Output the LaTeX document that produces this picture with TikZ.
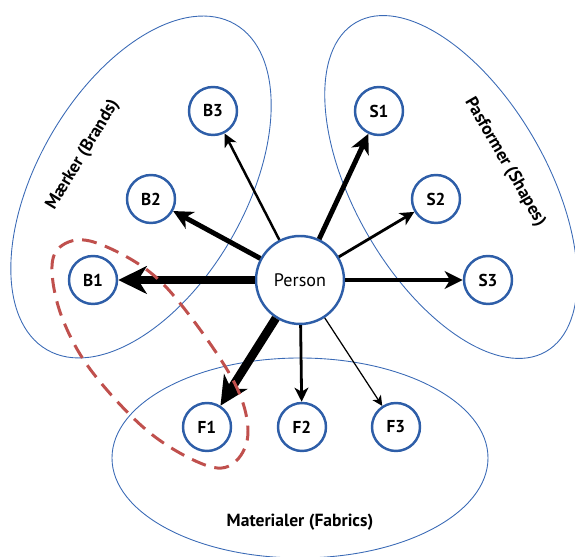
\documentclass[tikz,border=0pt]{standalone}
\usepackage{fontspec}
\setmainfont{PT Sans}
\usetikzlibrary{arrows.meta}

\definecolor{ringblue}{RGB}{46,94,168}
\definecolor{setblue}{RGB}{58,106,182}
\definecolor{pairred}{RGB}{192,80,77}

\tikzset{
    item/.style={circle, draw=ringblue, fill=white, line width=1.4pt, minimum size=0.96cm,
        inner sep=0pt, font=\bfseries\fontsize{9.8}{11}\selectfont},
    setline/.style={draw=setblue, line width=0.5pt},
    grouplabel/.style={font=\bfseries\fontsize{10}{11}\selectfont},
    link/.style={line width=#1, -{Stealth[length=4pt 2.5, width=4pt 2.4, inset=1pt 0.8]}},
}

\begin{document}
\begin{tikzpicture}[x=0.02cm, y=0.02cm] %Person og de tre grupper
            \useasboundingbox (0,0) rectangle (575,557);

            \draw[setline, rotate around={60:(141,370)}] (141,370) ellipse (188 and 104);
            \draw[setline, rotate around={-60:(451,370)}] (451,370) ellipse (190 and 96);
            \draw[setline] (300,99) ellipse (188 and 100);

            \node[grouplabel, rotate=59] (brands) at (83,402) {Mærker (Brands)};
            \node[grouplabel, rotate=-60] (shapes) at (505,395) {Pasformer (Shapes)};
            \node[grouplabel] (fabrics) at (300,35) {Materialer (Fabrics)};

            \node[item, minimum size=1.76cm, font=\fontsize{10.3}{12}\selectfont] (person) at (300,277) {Person};

            \node[item] (b1) at (93,277) {B1};
            \node[item] (b2) at (151,358) {B2};
            \node[item] (b3) at (213,446) {B3};
            \node[item] (s1) at (379,446) {S1};
            \node[item] (s2) at (436,358) {S2};
            \node[item] (s3) at (488,277) {S3};
            \node[item] (f1) at (207,130) {F1};
            \node[item] (f2) at (302,130) {F2};
            \node[item] (f3) at (396,130) {F3};

            \draw[link=4.9pt] (person) -- (b1);
            \draw[link=4.9pt] (person) -- (f1);
            \draw[link=2.8pt] (person) -- (b2);
            \draw[link=2.8pt] (person) -- (s1);
            \draw[link=2.5pt] (person) -- (s3);
            \draw[link=1.4pt] (person) -- (b3);
            \draw[link=1.6pt] (person) -- (s2);
            \draw[link=1.6pt] (person) -- (f2);
            \draw[link=0.7pt] (person) -- (f3);

            \draw[pairred, line width=1.7pt, dash pattern=on 8.5pt off 5pt]
                plot[smooth cycle, tension=0.6] coordinates {(52,285) (60,310) (90,316) (143,290) (183,250)
                (233,177) (248,127) (236,96) (208,91) (150,124) (93,184) (63,237)};
        \end{tikzpicture}
\end{document}
